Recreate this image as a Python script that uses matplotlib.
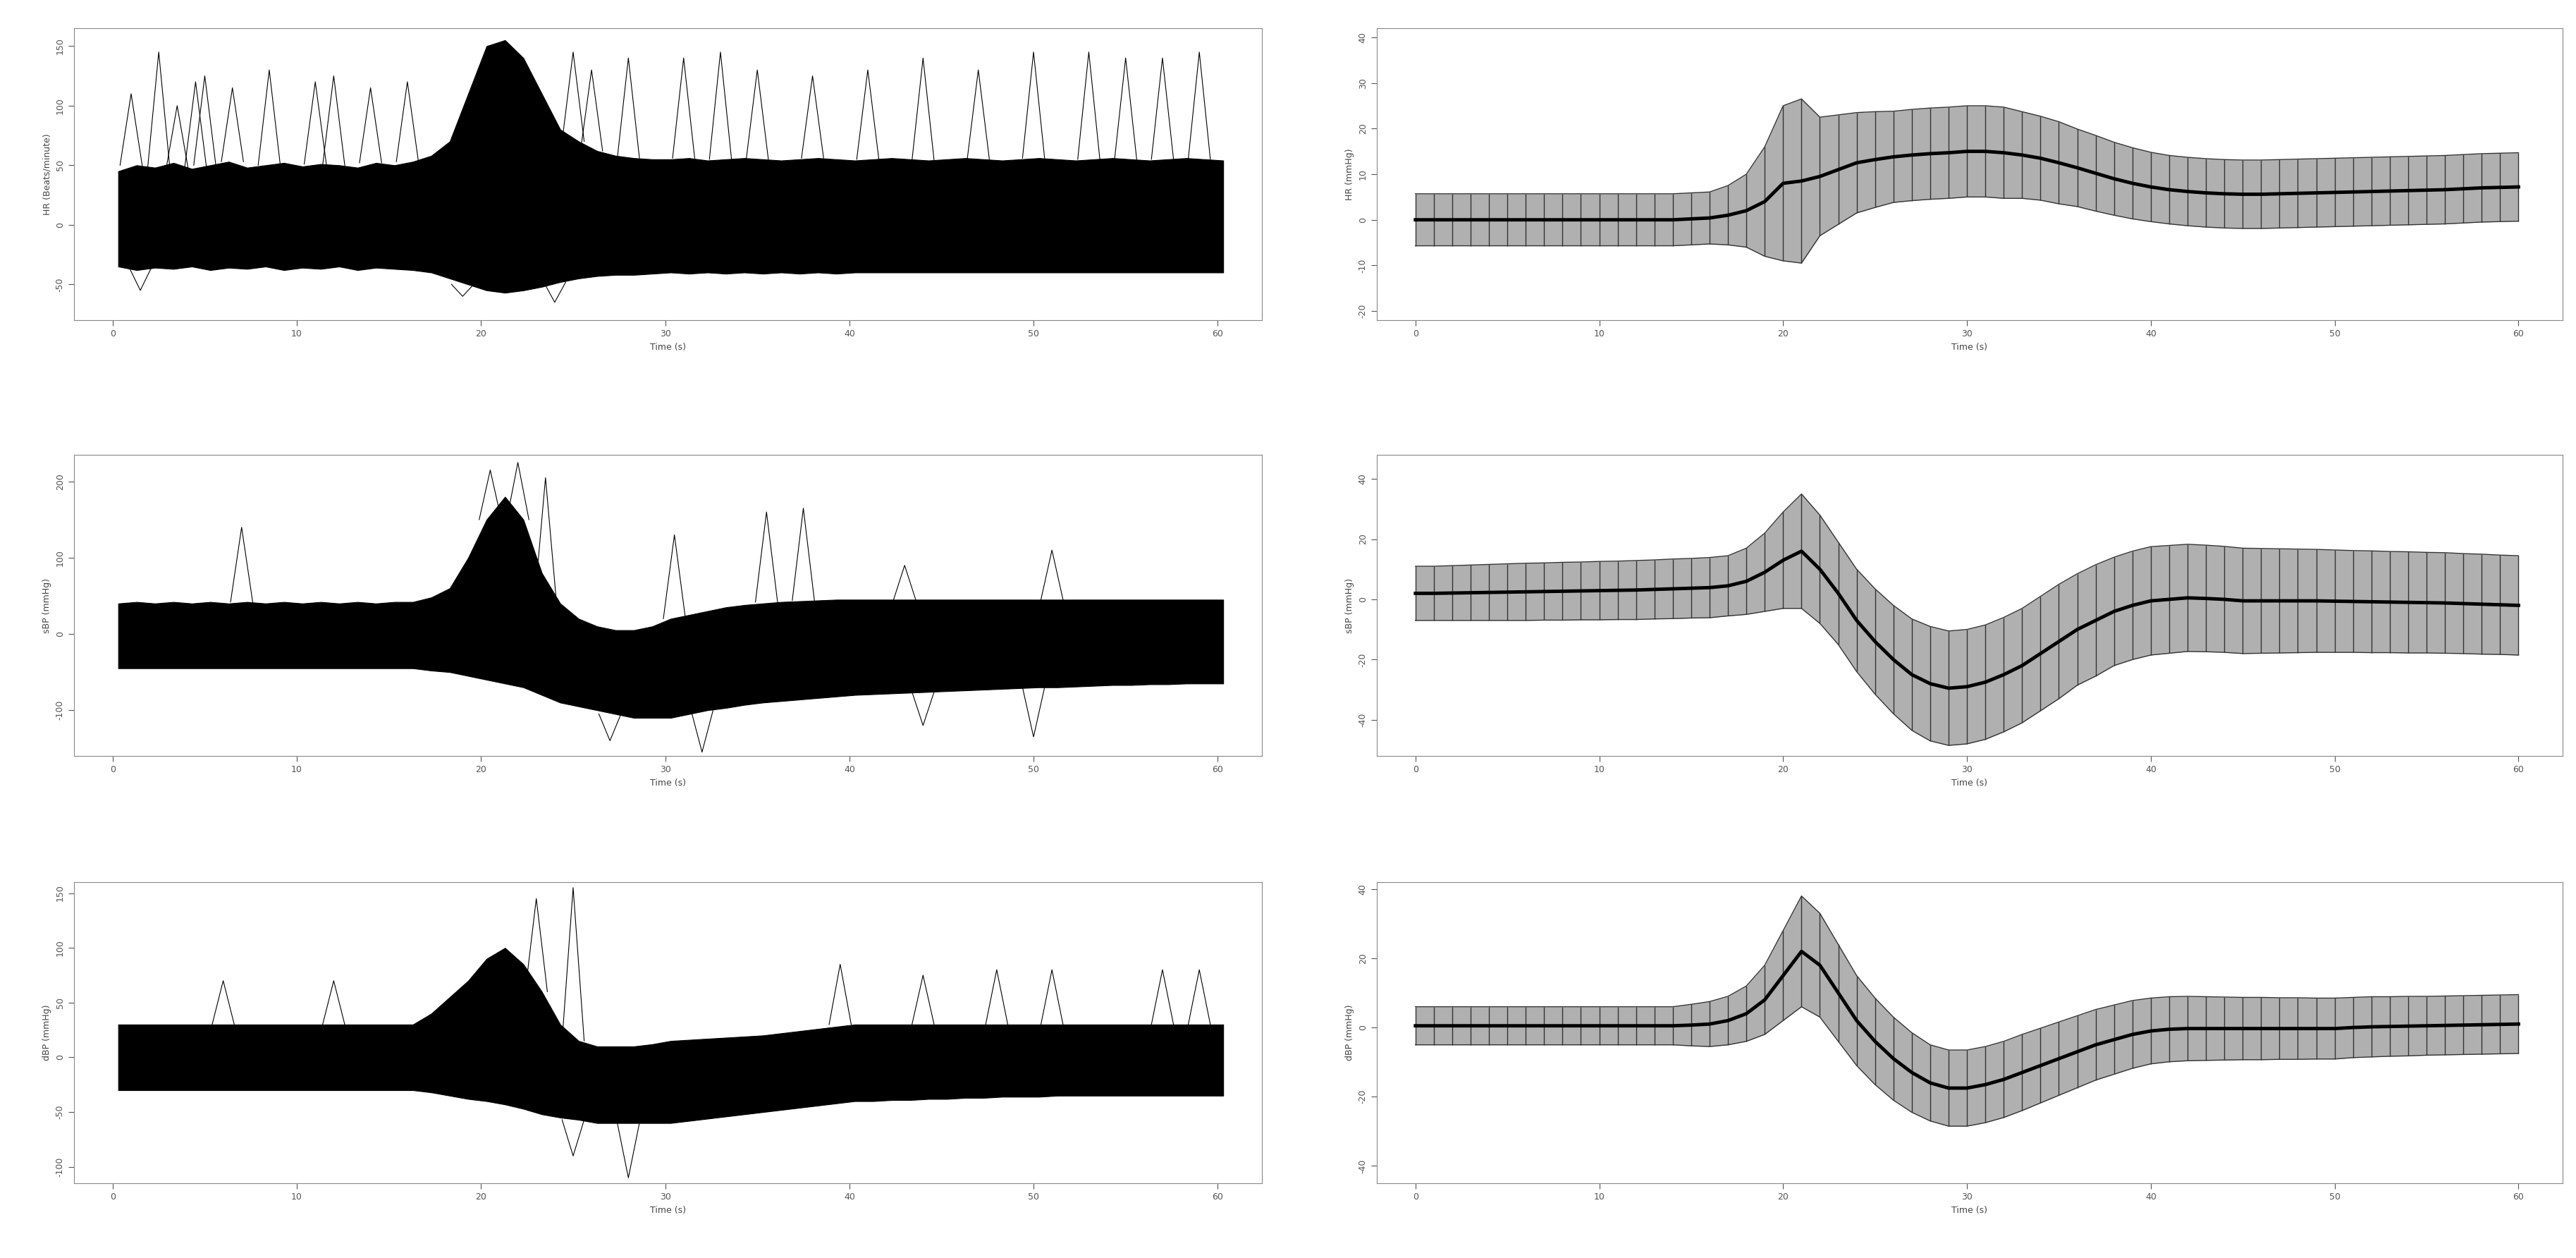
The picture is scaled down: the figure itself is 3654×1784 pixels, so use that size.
import matplotlib
matplotlib.use("Agg")
import matplotlib.pyplot as plt
import numpy as np

# time grid of the read-off values (seconds)
t = np.arange(0, 61)

# right column: mean and SD
hr_mean = [0, 0, 0, 0, 0, 0, 0, 0, 0, 0, 0, 0, 0, 0, 0, 0.2, 0.4, 1, 2, 4, 8, 8.5, 9.5, 11, 12.5,
           13.2, 13.8, 14.2, 14.5, 14.7, 15, 15, 14.7, 14.2, 13.5, 12.5, 11.4, 10.2, 9, 8, 7.2,
           6.6, 6.2, 5.9, 5.7, 5.6, 5.6, 5.7, 5.8, 5.9, 6, 6.1, 6.2, 6.3, 6.4, 6.5, 6.6, 6.8, 7, 7.1, 7.2]
hr_sd = [5.7] * 17 + [6.5, 8, 12, 17, 18, 13, 12, 11, 10.5, 10, 10, 10, 10, 10, 10, 10, 9.5, 9.2, 9,
                      8.5, 8.3, 8, 7.8, 7.6] + [7.5] * 20
sbp_mean = [2, 2, 2.1, 2.2, 2.3, 2.4, 2.5, 2.6, 2.7, 2.8, 2.9, 3, 3.1, 3.3, 3.5, 3.7, 3.9, 4.5, 6, 9, 13,
            16, 10, 2, -7, -14, -20, -25, -28, -29.5, -29, -27.5, -25, -22, -18, -14, -10, -7, -4, -2,
            -0.5, 0, 0.5, 0.3, 0, -0.5, -0.5, -0.5, -0.5, -0.5, -0.6, -0.7, -0.8, -0.9, -1, -1.1,
            -1.2, -1.4, -1.6, -1.8, -2]
sbp_sd = [9, 9, 9.1, 9.2, 9.3, 9.4, 9.5, 9.5, 9.6, 9.6, 9.7, 9.7, 9.8, 9.8, 9.9, 9.9, 10, 10, 11, 13,
          16, 19, 18, 17, 17, 17.5, 18, 18.5, 19, 19, 19, 19, 19, 19, 19, 19, 18.5, 18.5, 18, 18, 18,
          17.9, 17.8, 17.7, 17.6, 17.5, 17.4, 17.3, 17.2, 17.1, 17, 16.9, 16.9, 16.8, 16.8, 16.7,
          16.7, 16.6, 16.6, 16.5, 16.5]
dbp_mean = [0.5] * 15 + [0.7, 1, 2, 4, 8, 15, 22, 18, 10, 2, -4, -9, -13, -16, -17.5, -17.5, -16.5,
                         -15, -13, -11, -9, -7, -5, -3.5, -2, -1, -0.5, -0.3, -0.3, -0.3, -0.3, -0.3,
                         -0.3, -0.3, -0.3, -0.3, 0, 0.2, 0.3, 0.4, 0.5, 0.6, 0.7, 0.8, 0.9, 1]
dbp_sd = [5.5] * 15 + [6, 6.5, 7, 8, 10, 13, 16, 15, 14, 13, 12.5, 12, 11.5, 11, 11, 11, 11, 11, 11,
                       10.8, 10.6, 10.4, 10.2, 10, 9.8, 9.5, 9.4, 9.3, 9.2, 9.1, 9, 9, 8.9, 8.9, 8.8,
                       8.8, 8.7, 8.7, 8.6, 8.6, 8.5, 8.5, 8.5, 8.5, 8.5, 8.5]

# left column: dense core of the overlaid traces (upper / lower edge)
hr_up = [45, 50, 48, 52, 47, 50, 53, 48, 50, 52, 49, 51, 50, 48, 52, 50, 53, 58, 70, 110, 150, 155,
         140, 110, 80, 70, 62, 58, 56, 55, 55, 56, 54, 55, 56, 55, 54, 55, 56, 55, 54, 55, 56, 55,
         54, 55, 56, 55, 54, 55, 56, 55, 54, 55, 56, 55, 54, 55, 56, 55, 54]
hr_lo = [-35, -38, -36, -37, -35, -38, -36, -37, -35, -38, -36, -37, -35, -38, -36, -37, -38, -40,
         -45, -50, -55, -57, -55, -52, -48, -45, -43, -42, -42, -41, -40, -41, -40, -41, -40, -41,
         -40, -41, -40, -41, -40, -40, -40, -40, -40, -40, -40, -40, -40, -40, -40, -40, -40, -40,
         -40, -40, -40, -40, -40, -40, -40]
sbp_up = [40, 42, 40, 42, 40, 42, 40, 42, 40, 42, 40, 42, 40, 42, 40, 42, 42, 48, 60, 100, 150, 180,
          150, 80, 40, 20, 10, 5, 5, 10, 20, 25, 30, 35, 38, 40, 42, 43, 44, 45, 45, 45, 45, 45, 45,
          45, 45, 45, 45, 45, 45, 45, 45, 45, 45, 45, 45, 45, 45, 45, 45]
sbp_lo = [-45] * 17 + [-48, -50, -55, -60, -65, -70, -80, -90, -95, -100, -105, -110, -110, -110,
                       -105, -100, -97, -93, -90, -88, -86, -84, -82, -80, -79, -78, -77, -76, -75,
                       -74, -73, -72, -71, -70, -70, -69, -68, -67, -67, -66, -66, -65, -65, -65]
dbp_up = [30] * 17 + [40, 55, 70, 90, 100, 85, 60, 30, 15, 10, 10, 10, 12, 15, 16, 17, 18, 19, 20,
                      22, 24, 26, 28, 30, 30, 30, 30, 30, 30, 30, 30, 30, 30, 30, 30, 30, 30, 30,
                      30, 30, 30, 30, 30, 30]
dbp_lo = [-30] * 17 + [-32, -35, -38, -40, -43, -47, -52, -55, -57, -60, -60, -60, -60, -60, -58,
                       -56, -54, -52, -50, -48, -46, -44, -42, -40, -40, -39, -39, -38, -38, -37,
                       -37, -36, -36, -36, -35, -35, -35, -35, -35, -35, -35, -35, -35, -35]

# isolated excursions visible above / below the core: (time, peak value)
hr_spikes = [(1, 110), (2.5, 145), (3.5, 100), (4.5, 120), (5, 125), (6.5, 115), (8.5, 130),
             (11, 120), (12, 125), (14, 115), (16, 120), (25, 145), (26, 130), (28, 140), (31, 140),
             (33, 145), (35, 130), (38, 125), (41, 130), (44, 140), (47, 130), (50, 145), (53, 145),
             (55, 140), (57, 140), (59, 145), (1.5, -55), (24, -65), (19, -60)]
sbp_spikes = [(7, 140), (20.5, 215), (22, 225), (23.5, 205), (30.5, 130), (35.5, 160), (37.5, 165),
              (43, 90), (51, 110), (27, -140), (32, -155), (50, -135), (44, -120)]
dbp_spikes = [(23, 145), (25, 155), (12, 70), (6, 70), (39.5, 85), (44, 75), (48, 80), (51, 80),
              (57, 80), (59, 80), (28, -110), (25, -90)]

left_labels = ["HR (Beats/minute)", "sBP (mmHg)", "dBP (mmHg)"]
right_labels = ["HR (mmHg)", "sBP (mmHg)", "dBP (mmHg)"]

fig = plt.figure(figsize=(36.55, 17.84), dpi=100)
rows = [(40, 454), (645, 1072), (1251, 1678)]
W, H = 3655, 1784


def frame(ax, ylab, ylim, yticks):
    ax.set_xlim(-2.1, 62.4)
    ax.set_ylim(*ylim)
    ax.set_xticks(range(0, 61, 10))
    ax.set_yticks(yticks)
    ax.set_yticklabels([str(v) for v in yticks], rotation=90, va="center")
    ax.tick_params(labelsize=9, colors="#555555", length=6)
    for s in ax.spines.values():
        s.set_color("#888888")
    ax.set_xlabel("Time (s)", fontsize=9, color="#444444")
    ax.set_ylabel(ylab, fontsize=9, color="#444444")


left = [(hr_up, hr_lo, hr_spikes, (-80, 165), [-50, 0, 50, 100, 150]),
        (sbp_up, sbp_lo, sbp_spikes, (-160, 235), [-100, 0, 100, 200]),
        (dbp_up, dbp_lo, dbp_spikes, (-115, 160), [-100, -50, 0, 50, 100, 150])]
right = [(hr_mean, hr_sd, (-22, 42), [-20, -10, 0, 10, 20, 30, 40]),
         (sbp_mean, sbp_sd, (-52, 48), [-40, -20, 0, 20, 40]),
         (dbp_mean, dbp_sd, (-45, 42), [-40, -20, 0, 20, 40])]

for i, (y0, y1) in enumerate(rows):
    b = 1 - y1 / H
    h = (y1 - y0) / H
    ax = fig.add_axes([105 / W, b, (1790 - 105) / W, h])
    up, lo, spikes, ylim, yt = left[i]
    ax.fill_between(t + 0.3, lo, up, color="black", lw=0.8)
    base_up, base_lo = np.array(up), np.array(lo)
    for ts, pk in spikes:
        k = int(round(ts))
        b0 = base_up[k] if pk > 0 else base_lo[k]
        ax.plot([ts - 0.6, ts, ts + 0.6], [b0, pk, b0], color="black", lw=0.8)
    frame(ax, left_labels[i], ylim, yt)

    ax = fig.add_axes([1953 / W, b, (3635 - 1953) / W, h])
    m, sd, ylim, yt = right[i]
    m, sd = np.array(m), np.array(sd)
    ax.fill_between(t, m - sd, m + sd, color="#b0b0b0", lw=0)
    ax.errorbar(t, m, yerr=sd, fmt="none", ecolor="#333333", elinewidth=1, capsize=0)
    ax.plot(t, m + sd, color="#333333", lw=1)
    ax.plot(t, m - sd, color="#333333", lw=1)
    ax.plot(t, m, color="black", lw=3.5)
    frame(ax, right_labels[i], ylim, yt)

fig.savefig("out.png", dpi=100)
